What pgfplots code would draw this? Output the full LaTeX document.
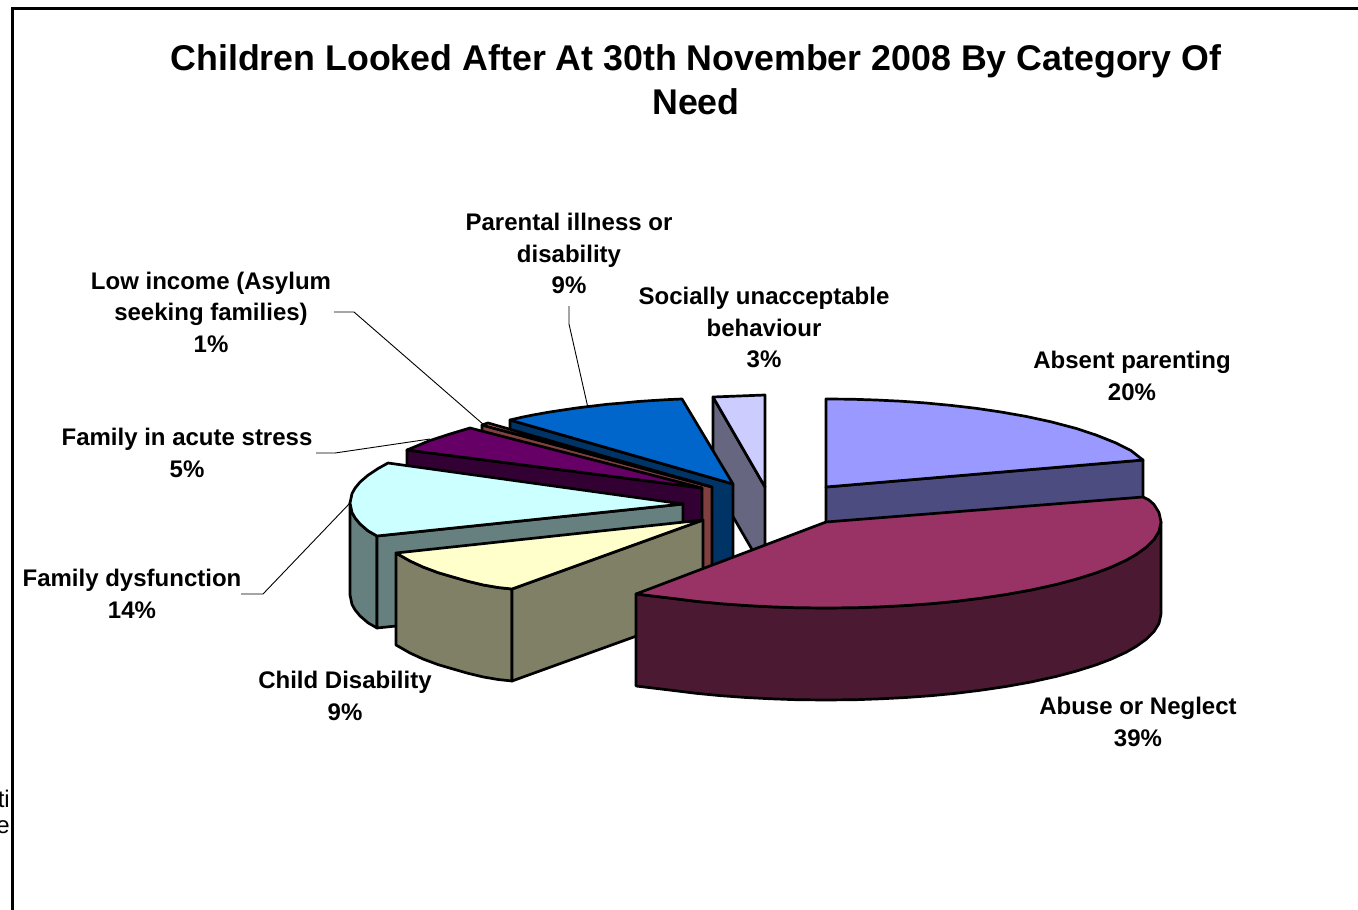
\documentclass[border=0pt]{standalone}
\usepackage{pgfplots}
\pgfplotsset{compat=1.18}
\usepackage{fontspec}
\setmainfont{Liberation Sans}
\definecolor{maroontop}{HTML}{993366}
\definecolor{maroonside}{HTML}{4C1933}
\definecolor{lavtop}{HTML}{9999FF}
\definecolor{lavside}{HTML}{4C4C80}
\definecolor{yelltop}{HTML}{FFFFCC}
\definecolor{yellside}{HTML}{808066}
\definecolor{cyantop}{HTML}{CCFFFF}
\definecolor{cyanside}{HTML}{668080}
\definecolor{purptop}{HTML}{660066}
\definecolor{purpside}{HTML}{330033}
\definecolor{salmtop}{HTML}{FF8080}
\definecolor{salmside}{HTML}{804040}
\definecolor{bluetop}{HTML}{0066CC}
\definecolor{blueside}{HTML}{003366}
\definecolor{palTop}{HTML}{CCCCFF}
\definecolor{palSide}{HTML}{666680}
\newcommand{\lab}{\fontsize{24}{31.6}\selectfont\bfseries}
\tikzset{slab/.style={align=center,inner sep=0pt,font=\lab}}
\pgfplotsset{
  slice/.style={draw=black,line width=2.7pt,line join=round,fill=#1},
  leader/.style={draw=black,line width=0.9pt},
}
\begin{document}
\begin{tikzpicture}
\useasboundingbox (0,0) rectangle (1358pt,910pt);
\clip (0,0) rectangle (1358pt,910pt);
\begin{axis}[
  scale only axis, width=1358pt, height=910pt,
  xmin=0, xmax=1358, ymin=0, ymax=910, y dir=reverse,
  hide axis, clip=false,
]
% frame of the chart area
\addplot[draw=black,line width=3pt] coordinates {(12,915) (12,8) (1365,8)};

% leader lines
\addplot[leader] coordinates {(334,312) (354,312) (484,425)};
\addplot[leader] coordinates {(569,306) (569,324) (588,408)};
\addplot[leader] coordinates {(316,453) (335,453) (430,439)};
\addplot[leader] coordinates {(241,594) (263,594) (350,503)};

% socially unacceptable behaviour, 3%
\addplot[slice=palSide] coordinates {(713,397) (765,487) (765,572) (713,482)} -- cycle;
\addplot[slice=palTop] coordinates {(713,397) (765,395) (765,487)} -- cycle;

% absent parenting, 20%
\addplot[slice=lavside] coordinates {(826,487) (1143,460) (1143,552) (826,579)} -- cycle;
\addplot[slice=lavtop] coordinates {(826,487) (826,399) (851,399.2) (876,400) (901,401.2) (926,403)
  (951,405.4) (976,408.3) (1001,412) (1026,416.4) (1051,421.8) (1076,428.4) (1096,435) (1116,443)
  (1131,450.6) (1143,460)} -- cycle;

% parental illness or disability, 9%
\addplot[slice=blueside] coordinates {(510,420) (733,484) (733,576) (510,512)} -- cycle;
\addplot[slice=bluetop] coordinates {(733,484) (510,420) (522,417.2) (533,415) (548,412.3) (563,410)
  (578,407.8) (593,406) (608,404.2) (623,403) (638,401.5) (653,400.5) (668,399.6) (682,399)} -- cycle;

% low income (asylum seeking families), 1%
\addplot[slice=salmside] coordinates {(482,425) (712,487) (712,579) (482,517)} -- cycle;
\addplot[slice=salmtop] coordinates {(482,425) (488,423) (712,487)} -- cycle;

% family in acute stress, 5%
\addplot[slice=purpside] coordinates {(407,450) (702,488) (702,580) (407,542)} -- cycle;
\addplot[slice=purptop] coordinates {(702,488) (407,450) (430,440.5) (450,434) (470,428)} -- cycle;

% family dysfunction, 14%
\addplot[slice=cyanside] coordinates {(350,503) (352,512.4) (355,517.8) (360,523.9) (368,530.8) (377,536)
  (377,628) (368,622.8) (360,615.9) (355,609.8) (352,604.4) (350,595)} -- cycle;
\addplot[slice=cyanside] coordinates {(377,536) (683,504) (683,596) (377,628)} -- cycle;
\addplot[slice=cyantop] coordinates {(683,504) (377,536) (368,530.8) (360,523.9) (355,517.8) (352,512.4)
  (350,503) (352,493.6) (355,488.2) (360,482.1) (368,475.2) (378,468.6) (388,463)} -- cycle;

% child disability, 9%
\addplot[slice=yellside] coordinates {(396,553) (410,561) (423,567) (438,572.6) (453,577) (468,581.3)
  (483,584.9) (498,587.5) (512,589) (512,681) (498,679.5) (483,676.9) (468,673.3) (453,669)
  (438,664.6) (423,659) (410,653) (396,645)} -- cycle;
\addplot[slice=yellside] coordinates {(512,589) (703,520) (703,612) (512,681)} -- cycle;
\addplot[slice=yelltop] coordinates {(703,520) (396,553) (410,561) (423,567) (438,572.6) (453,577)
  (468,581.3) (483,584.9) (498,587.5) (512,589)} -- cycle;

% abuse or neglect, 39%
\addplot[slice=maroonside] coordinates {(1161,522) (1159,531.4) (1154,539.5) (1146,547.4) (1136,554.6)
  (1126,560.3) (1111,567.2) (1096,572.9) (1076,579.2) (1056,584.5) (1031,590) (1006,594.5) (981,598.2)
  (956,601.3) (931,603.7) (906,605.5) (881,606.8) (856,607.7) (826,608) (796,607.7) (771,606.8)
  (746,605.5) (721,603.7) (696,601.3) (671,598.2) (636,594)
  (636,686) (671,690.2) (696,693.3) (721,695.7) (746,697.5) (771,698.8) (796,699.7) (826,700)
  (856,699.7) (881,698.8) (906,697.5) (931,695.7) (956,693.3) (981,690.2) (1006,686.5) (1031,682)
  (1056,676.5) (1076,671.2) (1096,664.9) (1111,659.2) (1126,652.3) (1136,646.6) (1146,639.4)
  (1154,631.5) (1159,623.4) (1161,614)} -- cycle;
\addplot[slice=maroontop] coordinates {(826,522) (1143,497) (1149,500) (1154,504.5) (1159,512.6) (1161,522)
  (1159,531.4) (1154,539.5) (1146,547.4) (1136,554.6) (1126,560.3) (1111,567.2) (1096,572.9) (1076,579.2)
  (1056,584.5) (1031,590) (1006,594.5) (981,598.2) (956,601.3) (931,603.7) (906,605.5) (881,606.8)
  (856,607.7) (826,608) (796,607.7) (771,606.8) (746,605.5) (721,603.7) (696,601.3) (671,598.2) (636,594)} -- cycle;

% text
\node[align=center,inner sep=0pt,font=\fontsize{35.75}{44}\selectfont\bfseries] at (axis cs:696,80)
  {Children Looked After At 30th November 2008 By Category Of\\Need};
\node[slab] at (axis cs:569,253.5) {Parental illness or\\disability\\9\%};
\node[slab] at (axis cs:211,312) {Low income (Asylum\\seeking families)\\1\%};
\node[slab] at (axis cs:764,327.5) {Socially unacceptable\\behaviour\\3\%};
\node[slab] at (axis cs:1132,376) {Absent parenting\\20\%};
\node[slab] at (axis cs:187,453) {Family in acute stress\\5\%};
\node[slab] at (axis cs:132,594) {Family dysfunction\\14\%};
\node[slab] at (axis cs:345,696) {Child Disability\\9\%};
\node[slab] at (axis cs:1138,722) {Abuse or Neglect\\39\%};
\node[anchor=east,inner sep=0pt,font=\fontsize{24}{28}\selectfont] at (axis cs:10,799) {ti};
\node[anchor=east,inner sep=0pt,font=\fontsize{24}{28}\selectfont] at (axis cs:10,827) {e};
\end{axis}
\end{tikzpicture}
\end{document}
